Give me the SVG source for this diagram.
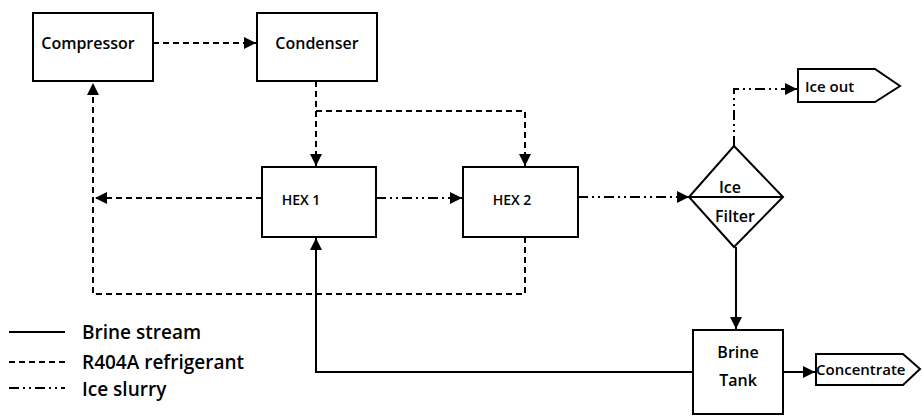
<svg xmlns="http://www.w3.org/2000/svg" width="922" height="418" viewBox="0 0 922 418">
<style>
.box{fill:#fff;stroke:#000;stroke-width:2}
.t{font-family:"Open Sans","Liberation Sans",sans-serif;fill:#000;font-weight:600}
.n{font-size:16px;text-anchor:middle}
.lg{font-size:19px}
.c{fill:none;stroke:#000;stroke-width:2}
.r{stroke-dasharray:6 4}
.i{stroke-dasharray:10 4 2 4 2 4}
</style>
<defs>
<marker id="ah" viewBox="0 0 10 10" refX="10" refY="5" markerWidth="6" markerHeight="6" orient="auto" markerUnits="strokeWidth">
<path d="M0,0 L10,5 L0,10 z" fill="#000"/>
</marker>
</defs>
<g id="connectors">
<path class="c r" d="M153,43 H256" marker-end="url(#ah)"/>
<path class="c r" d="M316,81 V166" marker-end="url(#ah)"/>
<path class="c r" d="M316,111 H525 V166" marker-end="url(#ah)"/>
<path class="c r" d="M262,198 H95" marker-end="url(#ah)"/>
<path class="c r" d="M525,237 V294 H93 V83" marker-end="url(#ah)"/>
<path class="c i" d="M376,198 H462" marker-end="url(#ah)"/>
<path class="c i" d="M578,197 H689" marker-end="url(#ah)"/>
<path class="c i" d="M734,146 V89 H797" marker-end="url(#ah)"/>
<path class="c" d="M736,247 V329" marker-end="url(#ah)"/>
<path class="c" d="M693,372 H316 V238" marker-end="url(#ah)"/>
<path class="c" d="M783,372 H815" marker-end="url(#ah)"/>
</g>
<g id="compressor"><rect class="box" x="33" y="13" width="120" height="68"/><text class="t n" x="88" y="49">Compressor</text></g>
<g id="condenser"><rect class="box" x="257" y="13" width="120" height="68"/><text class="t n" x="317" y="49">Condenser</text></g>
<g id="hex1"><rect class="box" x="262" y="167" width="114" height="70"/><text class="t" x="301" y="205" font-size="14" text-anchor="middle">HEX 1</text></g>
<g id="hex2"><rect class="box" x="463" y="167" width="115" height="70"/><text class="t" x="512" y="205" font-size="14" text-anchor="middle">HEX 2</text></g>
<g id="icefilter"><path class="box" d="M734,146 L783,197 L734,247 L689,197 Z"/><line x1="689" y1="197" x2="783" y2="197" stroke="#000" stroke-width="2"/><text class="t n" x="730" y="193">Ice</text><text class="t n" x="735" y="222">Filter</text></g>
<g id="iceout"><path class="box" d="M798,69 H875 L900,86 L875,102 H798 Z"/><text class="t" x="805" y="92" font-size="15">Ice out</text></g>
<g id="brinetank"><rect class="box" x="693" y="330" width="90" height="84"/><text class="t n" x="738" y="358">Brine</text><text class="t n" x="738" y="386">Tank</text></g>
<g id="concentrate"><path class="box" d="M816,354 H903 L920,369 L903,385 H816 Z"/><text class="t" x="816" y="375" font-size="15">Concentrate</text></g>
<g id="legend">
<line class="c" x1="9" y1="332" x2="65" y2="332"/><text class="t lg" x="82" y="339">Brine stream</text>
<line class="c r" x1="9" y1="362" x2="65" y2="362"/><text class="t lg" x="82" y="369">R404A refrigerant</text>
<line class="c i" x1="9" y1="388" x2="65" y2="388"/><text class="t lg" x="82" y="396">Ice slurry</text>
</g>
</svg>
